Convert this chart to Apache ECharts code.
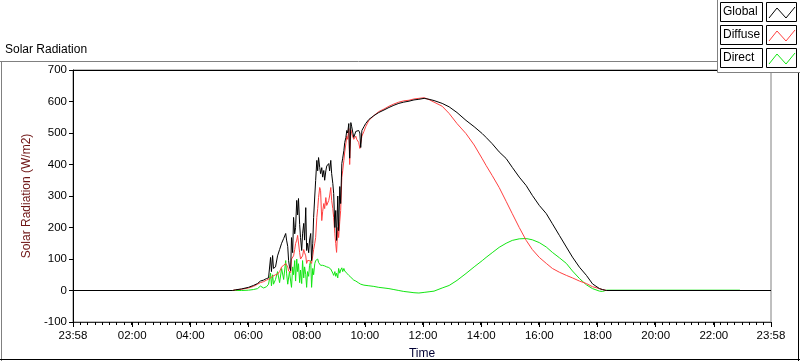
<!DOCTYPE html>
<html style="height: 100%">
<head>
<meta charset="utf-8">
<title>Solar Radiation</title>
<script src="https://cdn.jsdelivr.net/npm/echarts@6/dist/echarts.min.js"></script>
</head>
<body style="height: 100%; margin: 0; background: #fff">
<div id="main" style="width: 800px; height: 361px"></div>
<script type="text/javascript">
// time of day in hours, axis runs 23:58 -> 23:58
var T0 = -2 / 60;
var tickHours = [T0, 2, 4, 6, 8, 10, 12, 14, 16, 18, 20, 22, 24 + T0];

var hours = [T0, 5.45, 5.55, 5.76, 6.00, 6.17, 6.31, 6.41, 6.52, 6.62, 6.69, 6.76, 6.79, 6.83, 6.86, 6.93,
  7.00, 7.07, 7.14, 7.21, 7.28, 7.31, 7.35, 7.38, 7.41, 7.45, 7.48, 7.52, 7.55, 7.59, 7.62, 7.66, 7.69,
  7.72, 7.76, 7.79, 7.83, 7.86, 7.90, 7.93, 7.97, 8.00, 8.03, 8.07, 8.10, 8.14, 8.17, 8.21, 8.24, 8.28,
  8.31, 8.35, 8.38, 8.41, 8.45, 8.48, 8.52, 8.55, 8.59, 8.62, 8.66, 8.69, 8.76, 8.79, 8.83, 8.86, 8.90,
  8.93, 8.97, 9.00, 9.03, 9.07, 9.10, 9.14, 9.17, 9.21, 9.24, 9.28, 9.31, 9.35, 9.38, 9.41, 9.45, 9.48,
  9.52, 9.55, 9.62, 9.69, 9.72, 9.79, 9.83, 9.86, 9.90, 9.97, 10.03, 10.14, 10.31, 10.48, 10.66, 10.83,
  11.00, 11.17, 11.34, 11.52, 11.69, 11.86, 12.04, 12.21, 12.38, 12.66, 12.90, 13.17, 13.48, 13.76, 14.04,
  14.17, 14.38, 14.62, 14.86, 15.07, 15.31, 15.55, 15.76, 16.00, 16.24, 16.45, 16.69, 16.93, 17.14, 17.38,
  17.62, 17.83, 18.07, 18.17, 18.31, 22.90, 24 + T0];

var globalRad = [0, 0, 2, 5, 10, 16, 22, 30, 33, 38, 40, 105, 60, 111, 70, 75,
  110, 130, 150, 165, 181, 160, 140, 95, 75, 63, 168, 120, 232, 180, 200, 286, 240,
  292, 210, 168, 127, 180, 213, 160, 263, 127, 150, 120, 160, 181, 95, 150, 232, 300,
  349, 413, 380, 422, 390, 371, 390, 360, 381, 350, 380, 395, 403, 380, 413, 371, 340,
  308, 200, 254, 159, 300, 190, 330, 276, 403, 420, 444, 470, 486, 508, 500, 530, 420,
  533, 520, 486, 505, 510, 508, 500, 454, 508, 520, 530, 543, 555, 565, 573, 581,
  588, 594, 598, 601, 605, 607, 610, 607, 603, 594, 583, 565, 540, 520, 498,
  486, 466, 440, 419, 391, 360, 333, 302, 270, 244, 212, 175, 138, 106, 74,
  48, 21, 6, 3, 0, 0, 0];

var diffuseRad = [0, 0, 2, 4, 8, 13, 20, 25, 28, 33, 36, 40, 42, 45, 44, 50,
  52, 60, 75, 80, 86, 82, 75, 62, 60, 57, 100, 95, 110, 130, 149, 160, 175,
  181, 120, 100, 95, 110, 130, 120, 110, 86, 95, 90, 95, 100, 86, 110, 130, 150,
  168, 232, 260, 295, 327, 317, 222, 250, 276, 260, 295, 270, 286, 300, 327, 286, 260,
  232, 180, 149, 121, 200, 168, 220, 254, 359, 380, 413, 440, 467, 490, 480, 514, 400,
  510, 498, 480, 490, 480, 470, 451, 455, 490, 505, 520, 540, 555, 568, 576, 585,
  592, 598, 602, 604, 608, 610, 612, 606, 598, 585, 562, 530, 498, 462, 418,
  397, 365, 327, 283, 244, 200, 159, 130, 105, 86, 70, 58, 48, 40, 30,
  22, 12, 6, 3, 0, 0, 0];

var directRad = [0, 0, 0, 0, 1, 3, 6, 14, 8, 12, 20, 55, 15, 50, 20, 35,
  60, 25, 70, 35, 95, 55, 20, 16, 60, 30, 10, 75, 50, 95, 30, 100, 60,
  85, 25, 65, 22, 95, 40, 75, 50, 10, 60, 45, 80, 95, 10, 70, 50, 85,
  95, 90, 100, 89, 86, 80, 79, 80, 82, 78, 75, 75, 73, 70, 68, 65, 55,
  48, 60, 45, 55, 40, 70, 55, 65, 72, 60, 70, 62, 58, 55, 50, 48, 45,
  42, 38, 33, 30, 28, 24, 22, 20, 19, 17, 16, 15, 13, 10, 8, 6,
  3, 0, -3, -5, -7, -8, -6, -4, -2, 8, 16, 32, 54, 75, 95,
  105, 120, 137, 150, 159, 164, 165, 161, 152, 138, 121, 104, 86, 62, 38,
  18, 6, -2, -3, 1, 1, null];

var seriesNames = ['Global', 'Diffuse', 'Direct'];
var seriesColors = ['#000000', '#ff4040', '#12e612'];

function pairs(vals) {
  var out = [];
  for (var i = 0; i < hours.length; i++) {
    if (vals[i] !== null) out.push([hours[i], vals[i]]);
  }
  return out;
}

function hhmm(h) {
  var m = Math.round(h * 60);
  m = ((m % 1440) + 1440) % 1440;
  var hh = Math.floor(m / 60), mm = m % 60;
  return (hh < 10 ? '0' : '') + hh + ':' + (mm < 10 ? '0' : '') + mm;
}

var minorTicks = [];
for (var k = 0; k <= 96; k++) minorTicks.push(T0 + k * 0.25);

var font = 'Liberation Sans';
var myChart = echarts.init(document.getElementById('main'), null, { renderer: 'canvas' });

// legend boxes drawn by hand like the LabVIEW plot legend
var legendEls = [{
  type: 'rect', shape: { x: 717.5, y: -1, width: 84, height: 73.5 },
  style: { fill: '#fff', stroke: '#808080', lineWidth: 1 }, z: 10
}];
var rowY = [2, 25, 48];
for (var i = 0; i < 3; i++) {
  var y = rowY[i];
  legendEls.push({
    type: 'rect', shape: { x: 720.5, y: y + 0.5, width: 42, height: 19 },
    style: { fill: '#fff', stroke: '#000', lineWidth: 1 }, z: 11
  });
  legendEls.push({
    type: 'text', x: 723, y: y + 10,
    style: { text: seriesNames[i], font: '12px ' + font, fill: '#000', verticalAlign: 'middle' }, z: 12
  });
  legendEls.push({
    type: 'rect', shape: { x: 766.5, y: y + 0.5, width: 30, height: 19 },
    style: { fill: '#fff', stroke: '#000', lineWidth: 1 }, z: 11
  });
  legendEls.push({
    type: 'polyline', shape: { points: [[769, y + 16], [777, y + 6], [786, y + 16], [795, y + 5]] },
    style: { stroke: seriesColors[i], lineWidth: 1, fill: null }, z: 12
  });
}

var frameEls = [
  { type: 'line', shape: { x1: 0, y1: 61.5, x2: 717, y2: 61.5 }, style: { stroke: '#808080', lineWidth: 1 } },
  { type: 'line', shape: { x1: 1.5, y1: 61, x2: 1.5, y2: 361 }, style: { stroke: '#808080', lineWidth: 1 } },
  { type: 'line', shape: { x1: 0, y1: 359.5, x2: 800, y2: 359.5 }, style: { stroke: '#000', lineWidth: 1 } },
  { type: 'line', shape: { x1: 798.5, y1: 72, x2: 798.5, y2: 361 }, style: { stroke: '#000', lineWidth: 1 } },
  { type: 'text', x: 5, y: 50, style: { text: 'Solar Radiation', font: '12px ' + font, fill: '#000', verticalAlign: 'middle' } }
];

var option = {
  backgroundColor: '#ffffff',
  animation: false,
  textStyle: { fontFamily: font },
  grid: {
    left: 73, top: 70, right: 29, bottom: 39,
    show: true, backgroundColor: '#fff', borderColor: '#808080', borderWidth: 1,
    containLabel: false, outerBoundsMode: 'none'
  },
  xAxis: [{
    type: 'value', min: T0, max: 24 + T0, position: 'bottom',
    name: 'Time', nameLocation: 'middle', nameGap: 26,
    nameTextStyle: { color: '#000033', fontSize: 12, fontFamily: font },
    axisLine: { show: true, onZero: false, lineStyle: { color: '#303030', width: 1 } },
    axisTick: { show: true, inside: false, length: 5, customValues: tickHours, lineStyle: { color: '#000' } },
    axisLabel: {
      show: true, customValues: tickHours, margin: 8, color: '#000', fontSize: 11.5, fontFamily: font,
      formatter: function (v) { return hhmm(v); }
    },
    splitLine: { show: false }
  }, {
    type: 'value', min: T0, max: 24 + T0, position: 'bottom', offset: 0,
    axisLine: { show: false, onZero: false },
    axisTick: { show: true, inside: false, length: 3, customValues: minorTicks, lineStyle: { color: '#000' } },
    axisLabel: { show: false },
    splitLine: { show: false }
  }, {
    type: 'value', min: T0, max: 24 + T0, position: 'top', z: 5,
    axisLine: { show: true, onZero: false, lineStyle: { color: '#000', width: 1 } },
    axisTick: { show: false }, axisLabel: { show: false }, splitLine: { show: false }
  }],
  yAxis: {
    type: 'value', min: -100, max: 700, interval: 100, z: 5,
    name: 'Solar Radiation (W/m2)', nameLocation: 'middle', nameGap: 36,
    nameTextStyle: { color: '#6e1414', fontSize: 12, fontFamily: font },
    axisLine: { show: true, onZero: false, lineStyle: { color: '#000', width: 1 } },
    axisTick: { show: true, inside: false, length: 4, lineStyle: { color: '#000' } },
    axisLabel: { margin: 6, color: '#000', fontSize: 11.5, fontFamily: font },
    splitLine: { show: false }
  },
  series: [{
    name: 'Direct', type: 'line', data: pairs(directRad), showSymbol: false,
    lineStyle: { color: seriesColors[2], width: 1 }, itemStyle: { color: seriesColors[2] }
  }, {
    name: 'Diffuse', type: 'line', data: pairs(diffuseRad), showSymbol: false,
    lineStyle: { color: seriesColors[1], width: 1 }, itemStyle: { color: seriesColors[1] }
  }, {
    name: 'Global', type: 'line', data: pairs(globalRad), showSymbol: false,
    lineStyle: { color: seriesColors[0], width: 1 }, itemStyle: { color: seriesColors[0] }
  }],
  graphic: frameEls.concat(legendEls)
};
myChart.setOption(option);
</script>
</body>
</html>
